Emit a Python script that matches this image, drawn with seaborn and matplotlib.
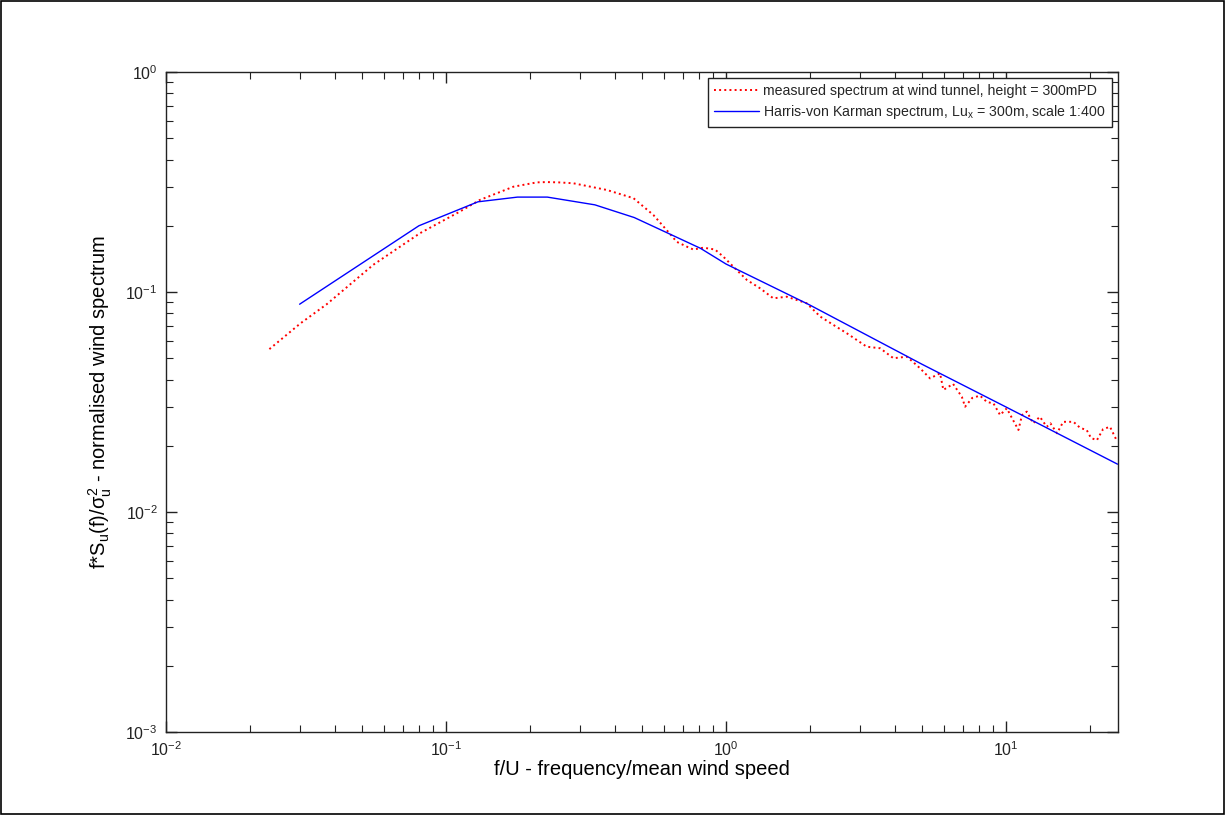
import numpy as np
import pandas as pd
import matplotlib
matplotlib.use("Agg")
import matplotlib.pyplot as plt
import seaborn as sns
from matplotlib.patches import Rectangle
from matplotlib.ticker import LogLocator

# ---- data ----
measured_x = [0.0234, 0.0302, 0.0375, 0.055, 0.0807, 0.112, 0.132, 0.174, 0.211, 0.229,
              0.252, 0.285, 0.375, 0.467, 0.55, 0.614, 0.667, 0.73, 0.764, 0.83,
              0.913, 0.978, 1.077, 1.186, 1.322, 1.475, 1.647, 1.94, 2.17, 2.42,
              2.70, 3.18, 3.55, 3.96, 4.42, 4.66, 4.93, 5.35, 5.81, 5.97,
              6.47, 6.95, 7.14, 7.57, 8.07, 8.55, 9.01, 9.52, 10.06, 10.5,
              11.07, 11.4, 11.86, 12.5, 13.2, 13.97, 14.4, 15.2, 16.0, 17.4,
              18.4, 19.4, 20.1, 21.1, 22.2, 23.5, 24.8]
measured_y = [0.055, 0.072, 0.088, 0.133, 0.185, 0.232, 0.262, 0.301, 0.315, 0.316,
              0.315, 0.312, 0.291, 0.267, 0.224, 0.191, 0.169, 0.160, 0.156, 0.159,
              0.156, 0.1447, 0.128, 0.1135, 0.104, 0.0936, 0.0952, 0.0889, 0.0773, 0.0708,
              0.0649, 0.0564, 0.0555, 0.050, 0.0508, 0.048, 0.045, 0.0405, 0.0427, 0.0359,
              0.0382, 0.0334, 0.0301, 0.033, 0.0338, 0.0316, 0.0312, 0.0276, 0.0296, 0.0267,
              0.0236, 0.0276, 0.0286, 0.0253, 0.0271, 0.0244, 0.0253, 0.0228, 0.0257, 0.0257,
              0.0241, 0.0236, 0.0217, 0.0212, 0.0238, 0.0244, 0.0212]

harris_x = [0.03, 0.08, 0.13, 0.18, 0.23, 0.34, 0.47, 0.65, 0.81, 1.0, 2.0, 5.0, 10.0, 25.0]
harris_y = [0.088, 0.20, 0.257, 0.270, 0.270, 0.249, 0.218, 0.180, 0.158, 0.134,
            0.087, 0.047, 0.030, 0.0165]

label_measured = "measured spectrum at wind tunnel, height = 300mPD"
label_harris = r"Harris-von Karman spectrum, Lu$_\mathregular{x}$ = 300m, scale 1:400"
xlabel = "f/U - frequency/mean wind speed"
ylabel = r"f*S$_\mathregular{u}$(f)/$\sigma_\mathregular{u}^\mathregular{2}$ - normalised wind spectrum"

# ---- style ----
sns.set_style("white")
plt.rcParams["font.family"] = ["Liberation Sans", "DejaVu Sans"]
plt.rcParams["mathtext.fontset"] = "custom"
plt.rcParams["mathtext.rm"] = "Liberation Sans"
plt.rcParams["mathtext.it"] = "Liberation Sans"
plt.rcParams["mathtext.sf"] = "Liberation Sans"

fig = plt.figure(figsize=(12.25, 8.15), dpi=100)
fig.patch.set_facecolor("white")
ax = fig.add_axes([166 / 1225, 1 - 732 / 815, (1118 - 166) / 1225, (732 - 72) / 815])

df_m = pd.DataFrame({"x": measured_x, "y": measured_y})
df_h = pd.DataFrame({"x": harris_x, "y": harris_y})

sns.lineplot(data=df_m, x="x", y="y", ax=ax, color="red", linestyle=":", linewidth=1.4,
             sort=False, estimator=None, label=label_measured)
sns.lineplot(data=df_h, x="x", y="y", ax=ax, color="#0000ff", linestyle="-", linewidth=1.0,
             sort=False, estimator=None, label=label_harris)

ax.set_xscale("log")
ax.set_yscale("log")
ax.set_xlim(0.01, 25.1)
ax.set_ylim(1e-3, 1.0)

ax.xaxis.set_major_locator(LogLocator(base=10, numticks=10))
ax.xaxis.set_minor_locator(LogLocator(base=10, subs=np.arange(2, 10), numticks=20))
ax.yaxis.set_major_locator(LogLocator(base=10, numticks=10))
ax.yaxis.set_minor_locator(LogLocator(base=10, subs=np.arange(2, 10), numticks=20))

for s in ax.spines.values():
    s.set_color("#222222")
    s.set_linewidth(1.0)
ax.tick_params(which="both", direction="in", top=True, right=True, bottom=True, left=True,
               colors="#222222", labelcolor="#222222", labelsize=11.5)
ax.tick_params(which="major", length=8, width=1.0, pad=6)
ax.tick_params(which="minor", length=5, width=0.8)

ax.set_xlabel(xlabel, fontsize=14.5, color="black", labelpad=1)
ax.set_ylabel(ylabel, fontsize=14.5, color="black", labelpad=8)

leg = ax.legend(loc="upper right", fontsize=10.2, frameon=True, fancybox=False,
                edgecolor="#222222", framealpha=1, borderaxespad=0.45,
                handlelength=3.2, handletextpad=0.3, borderpad=0.4, labelspacing=0.35)
leg.get_frame().set_linewidth(1.0)

# figure border
fig.patches.append(Rectangle((0.001, 0.001), 0.998, 0.998, transform=fig.transFigure,
                             fill=False, edgecolor="black", linewidth=1.2))

fig.savefig("out.png", dpi=100, facecolor="white")
